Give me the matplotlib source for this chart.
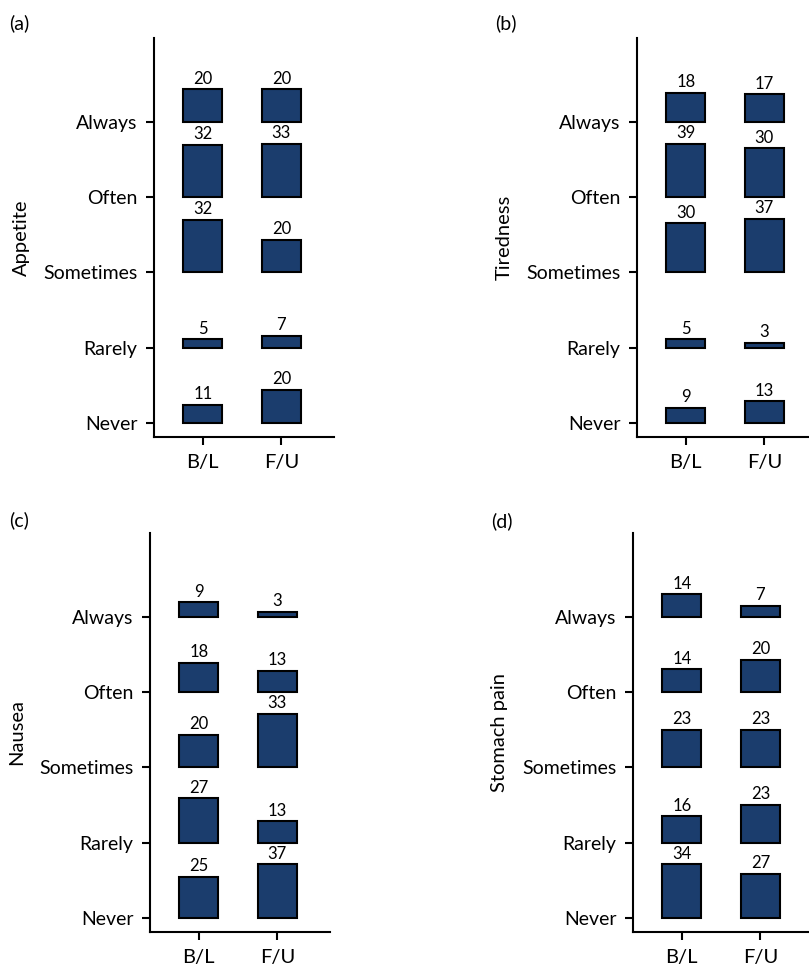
import matplotlib
matplotlib.use('Agg')
import matplotlib.pyplot as plt

plt.rcParams['font.family'] = ['Lato', 'DejaVu Sans']

levels = ['Never', 'Rarely', 'Sometimes', 'Often', 'Always']
times = ['B/L', 'F/U']

# percentages, order Never..Always
appetite_bl = [11, 5, 32, 32, 20]
appetite_fu = [20, 7, 20, 33, 20]
tired_bl = [9, 5, 30, 39, 18]
tired_fu = [13, 3, 37, 30, 17]
nausea_bl = [25, 27, 20, 18, 9]
nausea_fu = [37, 13, 33, 13, 3]
stomach_bl = [34, 16, 23, 14, 14]
stomach_fu = [27, 23, 23, 20, 7]

panels = [
    ('(a)', 'Appetite', appetite_bl, appetite_fu),
    ('(b)', 'Tiredness', tired_bl, tired_fu),
    ('(c)', 'Nausea', nausea_bl, nausea_fu),
    ('(d)', 'Stomach pain', stomach_bl, stomach_fu),
]

W, H = 809, 968
# left, top, bottom of spines in pixels
boxes = [(154, 38, 437), (637, 38, 437), (150, 533, 932), (633, 533, 932)]
tags = [(9, 14), (495, 14), (9, 511), (491, 512)]

color = '#1b3d6d'
scale = 46.0   # percent per category step
cap = 0.71     # bars never grow past this so they don't run into the next row

fig = plt.figure(figsize=(W / 100, H / 100), dpi=100)

for i, (tag, name, bl, fu) in enumerate(panels):
    l, t, b = boxes[i]
    ax = fig.add_axes([l / W, (H - b) / H, 180 / W, (b - t) / H])
    ypos = list(range(1, len(levels) + 1))
    for j, vals in enumerate([bl, fu]):
        x = j + 1
        hts = [min(v / scale, cap) for v in vals]
        ax.bar([x] * len(vals), hts, bottom=ypos, width=0.5, color=color,
               edgecolor='black', linewidth=1.5, zorder=3)
        for y, h, v in zip(ypos, hts, vals):
            ax.annotate(str(v), (x, y + h), xytext=(0, 2), textcoords='offset points',
                        ha='center', va='bottom', fontsize=12)
    ax.set_xlim(0.38, 2.67)
    ax.set_ylim(0.81, 6.12)
    ax.set_xticks([1, 2])
    ax.set_xticklabels(times)
    ax.set_yticks(ypos)
    ax.set_yticklabels(levels)
    ax.spines['top'].set_visible(False)
    ax.spines['right'].set_visible(False)
    for s in ['left', 'bottom']:
        ax.spines[s].set_linewidth(1.5)
    ax.tick_params(labelsize=14, length=6, width=1.5, pad=6)
    ax.tick_params(axis='x', labelsize=14.5)
    ax.set_ylabel(name, fontsize=14.5, va='center')
    ax.yaxis.set_label_coords(-133 / 180, 0.5)
    fig.text(tags[i][0] / W, 1 - tags[i][1] / H, tag, ha='left', va='top', fontsize=14)

fig.savefig('out.png', dpi=100)
